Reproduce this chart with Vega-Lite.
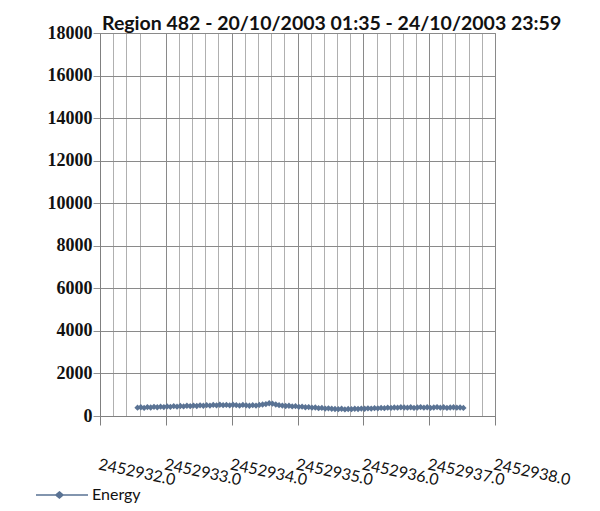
{
  "$schema": "https://vega.github.io/schema/vega-lite/v6.json",
  "width": 395,
  "height": 383,
  "autosize": {"type": "none"},
  "padding": {"left": 100, "top": 33, "right": 105, "bottom": 95},
  "background": "white",
  "title": {
    "text": "Region 482 - 20/10/2003 01:35 -  24/10/2003 23:59",
    "anchor": "start",
    "frame": "group",
    "dx": 2,
    "dy": 14,
    "offset": 4,
    "font": "Lato",
    "fontSize": 19.5,
    "fontWeight": "bold",
    "color": "#111111"
  },
  "data": {
    "values": [
      {"jd": 2452932.57, "energy": 390}, {"jd": 2452932.62, "energy": 410}, {"jd": 2452932.67, "energy": 380},
      {"jd": 2452932.72, "energy": 420}, {"jd": 2452932.77, "energy": 400}, {"jd": 2452932.82, "energy": 430},
      {"jd": 2452932.87, "energy": 410}, {"jd": 2452932.92, "energy": 440}, {"jd": 2452932.97, "energy": 420},
      {"jd": 2452933.02, "energy": 450}, {"jd": 2452933.07, "energy": 430}, {"jd": 2452933.12, "energy": 460},
      {"jd": 2452933.17, "energy": 440}, {"jd": 2452933.22, "energy": 470}, {"jd": 2452933.27, "energy": 450},
      {"jd": 2452933.32, "energy": 480}, {"jd": 2452933.37, "energy": 460}, {"jd": 2452933.42, "energy": 490},
      {"jd": 2452933.47, "energy": 470}, {"jd": 2452933.52, "energy": 500}, {"jd": 2452933.57, "energy": 480},
      {"jd": 2452933.62, "energy": 510}, {"jd": 2452933.67, "energy": 490}, {"jd": 2452933.72, "energy": 520},
      {"jd": 2452933.77, "energy": 500}, {"jd": 2452933.82, "energy": 530}, {"jd": 2452933.87, "energy": 510},
      {"jd": 2452933.92, "energy": 520}, {"jd": 2452933.97, "energy": 500}, {"jd": 2452934.02, "energy": 530},
      {"jd": 2452934.07, "energy": 510}, {"jd": 2452934.12, "energy": 490}, {"jd": 2452934.17, "energy": 520},
      {"jd": 2452934.22, "energy": 500}, {"jd": 2452934.27, "energy": 480}, {"jd": 2452934.32, "energy": 510},
      {"jd": 2452934.37, "energy": 490}, {"jd": 2452934.42, "energy": 520}, {"jd": 2452934.47, "energy": 540},
      {"jd": 2452934.52, "energy": 560}, {"jd": 2452934.57, "energy": 600}, {"jd": 2452934.62, "energy": 580},
      {"jd": 2452934.67, "energy": 540}, {"jd": 2452934.72, "energy": 510}, {"jd": 2452934.77, "energy": 490},
      {"jd": 2452934.82, "energy": 470}, {"jd": 2452934.87, "energy": 480}, {"jd": 2452934.92, "energy": 450},
      {"jd": 2452934.97, "energy": 460}, {"jd": 2452935.02, "energy": 430}, {"jd": 2452935.07, "energy": 440},
      {"jd": 2452935.12, "energy": 410}, {"jd": 2452935.17, "energy": 420}, {"jd": 2452935.22, "energy": 390},
      {"jd": 2452935.27, "energy": 400}, {"jd": 2452935.32, "energy": 370}, {"jd": 2452935.37, "energy": 380},
      {"jd": 2452935.42, "energy": 350}, {"jd": 2452935.47, "energy": 360}, {"jd": 2452935.52, "energy": 340},
      {"jd": 2452935.57, "energy": 330}, {"jd": 2452935.62, "energy": 320}, {"jd": 2452935.67, "energy": 340},
      {"jd": 2452935.72, "energy": 310}, {"jd": 2452935.77, "energy": 330}, {"jd": 2452935.82, "energy": 320},
      {"jd": 2452935.87, "energy": 340}, {"jd": 2452935.92, "energy": 330}, {"jd": 2452935.97, "energy": 350},
      {"jd": 2452936.02, "energy": 340}, {"jd": 2452936.07, "energy": 360}, {"jd": 2452936.12, "energy": 350},
      {"jd": 2452936.17, "energy": 370}, {"jd": 2452936.22, "energy": 360}, {"jd": 2452936.27, "energy": 380},
      {"jd": 2452936.32, "energy": 370}, {"jd": 2452936.37, "energy": 390}, {"jd": 2452936.42, "energy": 380},
      {"jd": 2452936.47, "energy": 400}, {"jd": 2452936.52, "energy": 390}, {"jd": 2452936.57, "energy": 410},
      {"jd": 2452936.62, "energy": 400}, {"jd": 2452936.67, "energy": 390}, {"jd": 2452936.72, "energy": 410},
      {"jd": 2452936.77, "energy": 380}, {"jd": 2452936.82, "energy": 400}, {"jd": 2452936.87, "energy": 420},
      {"jd": 2452936.92, "energy": 390}, {"jd": 2452936.97, "energy": 410}, {"jd": 2452937.02, "energy": 380},
      {"jd": 2452937.07, "energy": 400}, {"jd": 2452937.12, "energy": 420}, {"jd": 2452937.17, "energy": 390},
      {"jd": 2452937.22, "energy": 410}, {"jd": 2452937.27, "energy": 380}, {"jd": 2452937.32, "energy": 400},
      {"jd": 2452937.37, "energy": 410}, {"jd": 2452937.42, "energy": 390}, {"jd": 2452937.47, "energy": 400},
      {"jd": 2452937.52, "energy": 380}
    ]
  },
  "transform": [{"calculate": "'Energy'", "as": "series"}],
  "encoding": {
    "x": {
      "field": "jd",
      "type": "quantitative",
      "title": null,
      "scale": {"domain": [2452932, 2452938], "nice": false, "zero": false},
      "axis": {
        "values": [2452932, 2452932.2, 2452932.4, 2452932.6, 2452933, 2452933.2, 2452933.4, 2452933.6, 2452933.8,
                   2452934, 2452934.2, 2452934.4, 2452934.6, 2452934.8, 2452935, 2452935.2, 2452935.4, 2452935.6, 2452935.8,
                   2452936, 2452936.2, 2452936.4, 2452936.6, 2452936.8, 2452937, 2452937.2, 2452937.4, 2452937.6, 2452937.8, 2452938],
        "labelExpr": "abs(datum.value - round(datum.value)) < 0.01 ? format(datum.value, '.1f') : ''",
        "labelAngle": 12,
        "labelAlign": "left",
        "labelBaseline": "top",
        "labelPadding": 31,
        "labelFont": "Lato",
        "labelFontSize": 16,
        "labelColor": "#111111",
        "labelOverlap": false,
        "labelFlush": false,
        "tickSize": 9,
        "tickColor": "#808080",
        "tickOpacity": {"condition": {"test": "abs(datum.value - round(datum.value)) < 0.01", "value": 1}, "value": 0},
        "domainColor": "#808080",
        "grid": true,
        "gridColor": {"condition": {"test": "abs(datum.value - round(datum.value)) < 0.01", "value": "#8a8a8a"}, "value": "#b0b0b0"},
        "gridWidth": 1
      }
    },
    "y": {
      "field": "energy",
      "type": "quantitative",
      "title": null,
      "scale": {"domain": [0, 18000], "nice": false},
      "axis": {
        "values": [0, 2000, 4000, 6000, 8000, 10000, 12000, 14000, 16000, 18000],
        "format": "d",
        "labelFont": "Liberation Serif",
        "labelFontWeight": "bold",
        "labelFontSize": 18,
        "labelColor": "#111111",
        "labelPadding": 1,
        "tickSize": 7,
        "tickColor": "#909090",
        "domainColor": "#808080",
        "grid": true,
        "gridColor": "#8a8a8a"
      }
    },
    "color": {
      "field": "series",
      "type": "nominal",
      "scale": {"range": ["#5a7394"]},
      "legend": {
        "title": null,
        "orient": "none",
        "legendX": -65,
        "legendY": 435,
        "symbolType": "M-1,0L1,0M-0.1,-0.12L0.04,0L-0.1,0.12L-0.24,0Z",
        "symbolSize": 2704,
        "symbolStrokeColor": "#6f7f92",
        "symbolFillColor": "#5a7394",
        "symbolStrokeWidth": 1.5,
        "labelFont": "Lato",
        "labelFontSize": 16,
        "labelColor": "#111111",
        "labelOffset": 3
      }
    }
  },
  "layer": [
    {"mark": {"type": "line", "strokeWidth": 2}},
    {"mark": {"type": "point", "shape": "diamond", "filled": true, "size": 40, "opacity": 1}}
  ],
  "config": {
    "view": {"stroke": "#8a8a8a"}
  }
}
